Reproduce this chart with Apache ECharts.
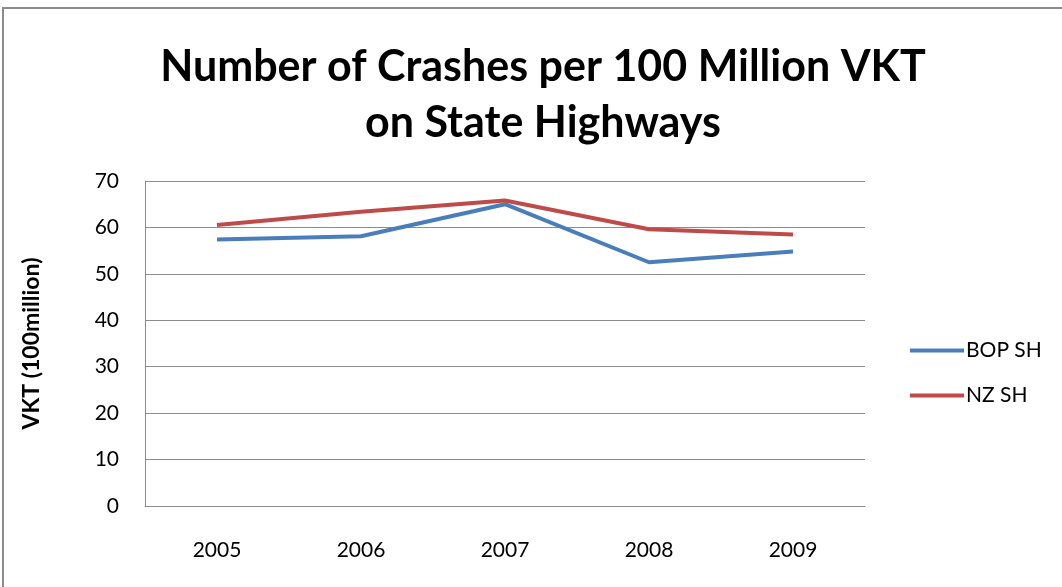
<!DOCTYPE html>
<html><head><meta charset="utf-8">
<script src="https://cdn.jsdelivr.net/npm/echarts@6/dist/echarts.min.js"></script>
<style>html,body{margin:0;padding:0;background:#fff}#c{width:1062px;height:587px}</style>
</head><body><div id="c"></div>
<script>
const years = ['2005','2006','2007','2008','2009'];
const bopSH = [57.4, 58.1, 65.0, 52.5, 54.8];
const nzSH = [60.5, 63.4, 65.8, 59.6, 58.5];
const yTicks = {min: 0, max: 70, interval: 10};

const chart = echarts.init(document.getElementById('c'));
const font = 'Lato, "Open Sans", sans-serif';
chart.setOption({
  animation: false,
  backgroundColor: '#fff',
  graphic: [{type:'rect', shape:{x:3, y:8, width:1100, height:700}, style:{fill:'none', stroke:'#8c8c8c', lineWidth:2}, silent:true}],
  title: {
    text: 'Number of Crashes per 100 Million VKT\non State Highways',
    left: 538, top: 34, textAlign: 'center',
    textStyle: {fontFamily: font, fontWeight: 'bold', fontSize: 43, lineHeight: 56, color: '#000'}
  },
  legend: {
    orient: 'vertical', left: 905, top: 335, itemGap: 24,
    itemWidth: 54, itemHeight: 4, icon: 'rect',
    textStyle: {fontFamily: font, fontSize: 21, color: '#000', padding:[0,0,0,-3]},
    data: ['BOP SH', 'NZ SH']
  },
  grid: {left: 145, right: 197, top: 181, bottom: 81},
  xAxis: {
    type: 'category', data: years, boundaryGap: true,
    axisLine: {lineStyle: {color: '#8c8c8c'}}, axisTick: {show: false},
    axisLabel: {fontFamily: font, fontSize: 21, color: '#000', margin: 34}
  },
  yAxis: {
    type: 'value', min: yTicks.min, max: yTicks.max, interval: yTicks.interval,
    name: 'VKT (100million)', nameLocation: 'middle', nameGap: 102, nameRotate: 90,
    nameTextStyle: {fontFamily: font, fontWeight: 'bold', fontSize: 23, color: '#000'},
    axisLine: {show: true, lineStyle: {color: '#8c8c8c'}}, axisTick: {show: false},
    axisLabel: {fontFamily: font, fontSize: 21, color: '#000', margin: 26},
    splitLine: {lineStyle: {color: '#8c8c8c'}}
  },
  series: [
    {name: 'BOP SH', type: 'line', data: bopSH, symbol: 'none', lineStyle: {width: 4, color: '#4a7ebb'}, itemStyle: {color: '#4a7ebb'}},
    {name: 'NZ SH', type: 'line', data: nzSH, symbol: 'none', lineStyle: {width: 4, color: '#be4b48'}, itemStyle: {color: '#be4b48'}}
  ]
});
</script></body></html>
